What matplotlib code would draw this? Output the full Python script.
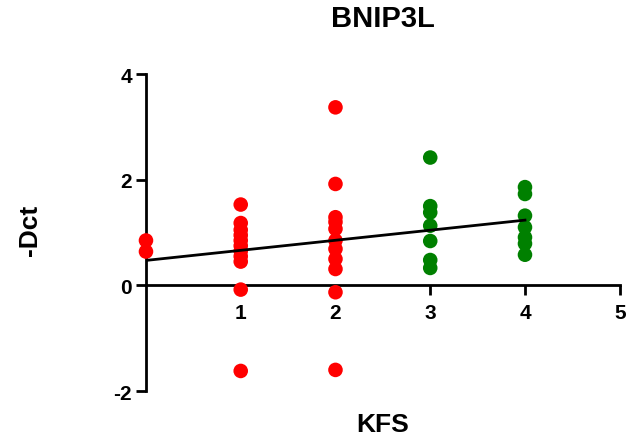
import numpy as np
import matplotlib.pyplot as plt

plt.rcParams['font.family'] = ['Liberation Sans', 'DejaVu Sans']
plt.rcParams['font.weight'] = 'bold'
plt.rcParams['axes.unicode_minus'] = False

# KFS score and -Dct values
x0 = [0, 0]
y0 = [0.85, 0.64]
x1 = [1] * 11
y1 = [1.53, 1.18, 1.05, 0.95, 0.85, 0.75, 0.65, 0.55, 0.45, -0.08, -1.62]
x2 = [2] * 11
y2 = [3.37, 1.92, 1.29, 1.20, 1.07, 0.85, 0.69, 0.50, 0.31, -0.13, -1.60]
x3 = [3] * 7
y3 = [2.42, 1.50, 1.38, 1.13, 0.84, 0.48, 0.33]
x4 = [4] * 7
y4 = [1.86, 1.73, 1.32, 1.10, 0.91, 0.79, 0.58]

fig = plt.figure(figsize=(6.3, 4.39), dpi=100)
ax = fig.add_axes([0.2317, 0.107, 0.752, 0.722])

red_x = x0 + x1 + x2
red_y = y0 + y1 + y2
green_x = x3 + x4
green_y = y3 + y4
ax.scatter(red_x, red_y, s=110, color='#ff0000', edgecolors='none', clip_on=False, zorder=3)
ax.scatter(green_x, green_y, s=110, color='#008000', edgecolors='none', clip_on=False, zorder=3)

# linear fit over all points
all_x = np.array(red_x + green_x)
all_y = np.array(red_y + green_y)
k, b = np.polyfit(all_x, all_y, 1)
fx = np.array([0, 4])
ax.plot(fx, k * fx + b, color='black', lw=2, zorder=4)

ax.set_xlim(0, 5)
ax.set_ylim(-2, 4)
ax.spines['top'].set_visible(False)
ax.spines['right'].set_visible(False)
ax.spines['bottom'].set_position(('data', 0))
ax.spines['left'].set_linewidth(2)
ax.spines['bottom'].set_linewidth(2)
ax.set_xticks([1, 2, 3, 4, 5])
ax.set_yticks([-2, 0, 2, 4])
ax.tick_params(axis='both', width=2, length=7, labelsize=15, direction='out')
ax.tick_params(axis='x', pad=6)
ax.tick_params(axis='y', pad=3)

ax.set_title('BNIP3L', fontsize=21, fontweight='bold', y=1.151, va='center')
ax.set_xlabel('KFS', fontsize=19, fontweight='bold')
ax.xaxis.label.set_va('center')
ax.xaxis.set_label_coords(0.5, -0.104)
ax.set_ylabel('-Dct', fontsize=19, fontweight='bold')
ax.yaxis.label.set_va('center')
ax.yaxis.set_label_coords(-0.245, 0.51)

fig.savefig('out.png', dpi=100)
